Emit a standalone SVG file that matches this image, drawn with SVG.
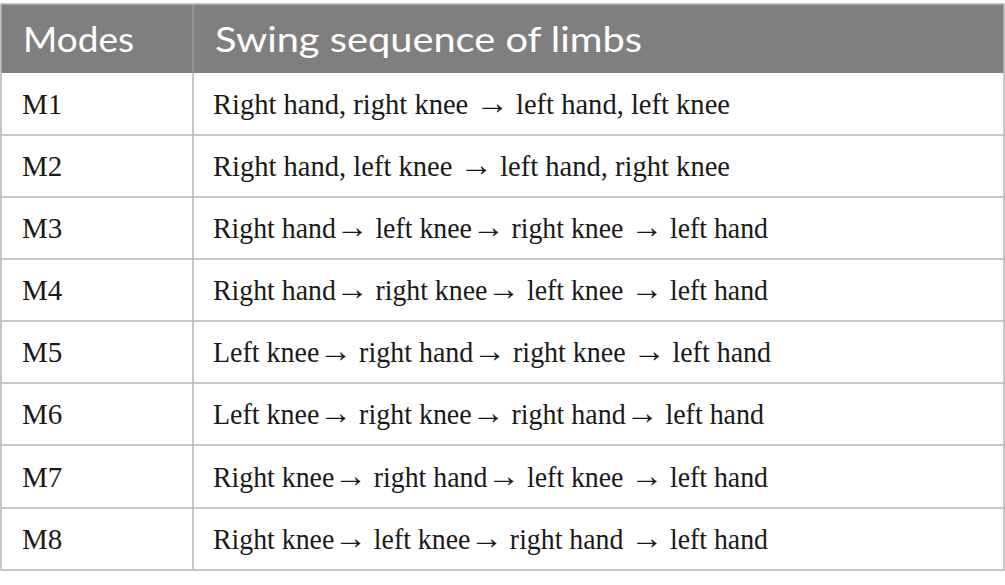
<svg xmlns="http://www.w3.org/2000/svg" width="1005" height="585" viewBox="0 0 1005 585">
<style>
.hd{font-family:Lato,"Open Sans","Liberation Sans",sans-serif;font-size:35px;fill:#ffffff}
.bd{font-family:"Liberation Serif","DejaVu Serif",serif;font-size:29px;fill:#1a1a1a}
.ar{font-family:"Liberation Serif",serif;font-size:34px}
.ln{stroke:#b4b4b4;stroke-width:1.5;fill:none}
</style>
<rect x="0" y="0" width="1005" height="585" fill="#ffffff"/>
<g id="header">
<rect x="1" y="4" width="1003" height="69" fill="#7f7f7f"/>
<line x1="193" y1="4" x2="193" y2="73" stroke="#9c9c9c" stroke-width="1.5"/>
<text class="hd" x="23" y="52" textLength="111" lengthAdjust="spacingAndGlyphs">Modes</text>
<text class="hd" x="215" y="52" textLength="427" lengthAdjust="spacingAndGlyphs">Swing sequence of limbs</text>
</g>
<g id="grid">
<rect class="ln" x="1" y="4" width="1003" height="566"/>
<line class="ln" x1="193" y1="73" x2="193" y2="570"/>
<line class="ln" x1="1" y1="135" x2="1004" y2="135"/>
<line class="ln" x1="1" y1="197" x2="1004" y2="197"/>
<line class="ln" x1="1" y1="259" x2="1004" y2="259"/>
<line class="ln" x1="1" y1="321" x2="1004" y2="321"/>
<line class="ln" x1="1" y1="383" x2="1004" y2="383"/>
<line class="ln" x1="1" y1="445" x2="1004" y2="445"/>
<line class="ln" x1="1" y1="508" x2="1004" y2="508"/>
</g>
<g id="row1"><text class="bd" x="22" y="114">M1</text><text class="bd" x="213" y="114" textLength="517" lengthAdjust="spacingAndGlyphs">Right hand, right knee <tspan class="ar">→</tspan> left hand, left knee</text></g>
<g id="row2"><text class="bd" x="22" y="176">M2</text><text class="bd" x="213" y="176" textLength="517" lengthAdjust="spacingAndGlyphs">Right hand, left knee <tspan class="ar">→</tspan> left hand, right knee</text></g>
<g id="row3"><text class="bd" x="22" y="238">M3</text><text class="bd" x="213" y="238" textLength="555" lengthAdjust="spacingAndGlyphs">Right hand<tspan class="ar">→</tspan> left knee<tspan class="ar">→</tspan> right knee <tspan class="ar">→</tspan> left hand</text></g>
<g id="row4"><text class="bd" x="22" y="300">M4</text><text class="bd" x="213" y="300" textLength="555" lengthAdjust="spacingAndGlyphs">Right hand<tspan class="ar">→</tspan> right knee<tspan class="ar">→</tspan> left knee <tspan class="ar">→</tspan> left hand</text></g>
<g id="row5"><text class="bd" x="22" y="362">M5</text><text class="bd" x="213" y="362" textLength="558" lengthAdjust="spacingAndGlyphs">Left knee<tspan class="ar">→</tspan> right hand<tspan class="ar">→</tspan> right knee <tspan class="ar">→</tspan> left hand</text></g>
<g id="row6"><text class="bd" x="22" y="424">M6</text><text class="bd" x="213" y="424" textLength="551" lengthAdjust="spacingAndGlyphs">Left knee<tspan class="ar">→</tspan> right knee<tspan class="ar">→</tspan> right hand<tspan class="ar">→</tspan> left hand</text></g>
<g id="row7"><text class="bd" x="22" y="487">M7</text><text class="bd" x="213" y="487" textLength="555" lengthAdjust="spacingAndGlyphs">Right knee<tspan class="ar">→</tspan> right hand<tspan class="ar">→</tspan> left knee <tspan class="ar">→</tspan> left hand</text></g>
<g id="row8"><text class="bd" x="22" y="549">M8</text><text class="bd" x="213" y="549" textLength="555" lengthAdjust="spacingAndGlyphs">Right knee<tspan class="ar">→</tspan> left knee<tspan class="ar">→</tspan> right hand <tspan class="ar">→</tspan> left hand</text></g>
</svg>
